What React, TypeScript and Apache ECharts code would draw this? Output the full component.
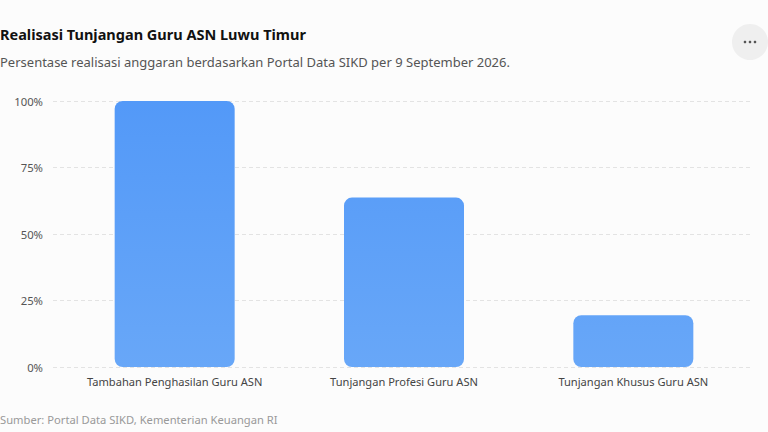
import React, { useEffect, useRef } from "react";
import * as echarts from "echarts";

const categories = [
  "Tambahan Penghasilan Guru ASN",
  "Tunjangan Profesi Guru ASN",
  "Tunjangan Khusus Guru ASN",
];
const realisasi = [100, 63.7, 19.5];
const yTicks = [0, 25, 50, 75, 100];

const titleText = "Realisasi Tunjangan Guru ASN Luwu Timur";
const subtitleText =
  "Persentase realisasi anggaran berdasarkan Portal Data SIKD per 9 September 2026.";
const sourceText = "Sumber: Portal Data SIKD, Kementerian Keuangan RI";

const FONT = "'Noto Sans', sans-serif";

export default function App() {
  const ref = useRef<HTMLDivElement>(null);
  useEffect(() => {
    if (!ref.current) return;
    const chart = echarts.init(ref.current, null, { renderer: "svg" });
    const yMin = yTicks[0];
    const yMax = yTicks[yTicks.length - 1];
    const yInterval = yTicks[1] - yTicks[0];
    chart.setOption({
      animation: false,
      backgroundColor: "#fcfcfc",
      textStyle: { fontFamily: FONT },
      grid: [
        { left: 53, right: 15, top: 101, bottom: 65 },
        { left: 60, right: 20, top: 101, bottom: 65 },
      ],
      xAxis: [
        {
          type: "category",
          gridIndex: 0,
          data: categories,
          show: false,
        },
        {
          type: "category",
          gridIndex: 1,
          data: categories,
          axisLine: { show: false },
          axisTick: { show: false },
          axisLabel: {
            interval: 0,
            color: "#444",
            fontSize: 11.1,
            margin: 9,
            fontFamily: FONT,
          },
        },
      ],
      yAxis: [
        {
          type: "value",
          gridIndex: 0,
          min: yMin,
          max: yMax,
          interval: yInterval,
          axisLine: { show: false },
          axisTick: { show: false },
          axisLabel: {
            formatter: "{value}%",
            color: "#555",
            fontSize: 11.3,
            margin: 10,
            fontFamily: FONT,
          },
          splitLine: {
            lineStyle: { color: "#e3e3e3", type: [4, 3], width: 1 },
          },
        },
        {
          type: "value",
          gridIndex: 1,
          min: yMin,
          max: yMax,
          interval: yInterval,
          show: false,
          splitLine: { show: false },
        },
      ],
      series: [
        {
          type: "bar",
          xAxisIndex: 1,
          yAxisIndex: 1,
          data: realisasi,
          barWidth: 120,
          itemStyle: {
            borderRadius: 8,
            color: new echarts.graphic.LinearGradient(
              0,
              101,
              0,
              367,
              [
                { offset: 0, color: "#5399f8" },
                { offset: 1, color: "#68a7f8" },
              ],
              true
            ),
          },
        },
      ],
      graphic: [
        {
          type: "text",
          left: 0,
          top: 26,
          style: {
            text: titleText,
            fontSize: 14.5,
            fontWeight: "bold",
            fill: "#111",
            fontFamily: FONT,
          },
        },
        {
          type: "text",
          left: 0,
          top: 55,
          style: {
            text: subtitleText,
            fontSize: 13,
            fill: "#555",
            fontFamily: FONT,
          },
        },
        {
          type: "text",
          left: 0,
          top: 414,
          style: {
            text: sourceText,
            fontSize: 11.2,
            fill: "#999",
            fontFamily: FONT,
          },
        },
        {
          type: "circle",
          shape: { cx: 750, cy: 42, r: 18 },
          style: { fill: "#efefef" },
        },
        {
          type: "circle",
          shape: { cx: 745, cy: 42, r: 1.3 },
          style: { fill: "#555" },
        },
        {
          type: "circle",
          shape: { cx: 750, cy: 42, r: 1.3 },
          style: { fill: "#555" },
        },
        {
          type: "circle",
          shape: { cx: 755, cy: 42, r: 1.3 },
          style: { fill: "#555" },
        },
      ],
    });
    return () => chart.dispose();
  }, []);
  return (
    <div
      ref={ref}
      style={{ position: "fixed", left: 0, top: 0, width: 768, height: 432 }}
    />
  );
}
